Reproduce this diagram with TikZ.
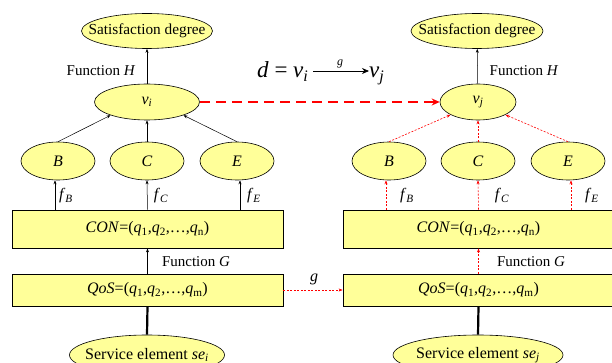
\documentclass[tikz,border=0pt]{standalone}
\usepackage{fontspec}
\setmainfont{Liberation Serif}
\usetikzlibrary{shapes.geometric,arrows.meta}
\definecolor{yel}{HTML}{FFFF99}
\begin{document}
\begin{tikzpicture}[x=1pt,y=-1pt,
  ell/.style={ellipse,draw,fill=yel,inner sep=0pt,line width=0.6pt},
  etxt/.style={inner sep=0pt,font=\fontsize{16}{18}\selectfont},
  stxt/.style={inner sep=0pt,font=\fontsize{15.3}{17}\selectfont},
  box/.style={rectangle,draw,fill=yel,minimum width=271pt,inner sep=0pt,line width=0.8pt,font=\fontsize{16}{18}\selectfont},
  lbl/.style={inner sep=0pt,font=\fontsize{15}{17}\selectfont},
  flbl/.style={inner sep=0pt,font=\fontsize{16}{18}\selectfont},
  arr/.style={-{Stealth[length=4pt,width=3pt]},line width=0.5pt},
  rarr/.style={-{Stealth[length=4pt,width=3pt]},line width=0.6pt,red,dash pattern=on 2pt off 1.5pt},
  big/.style={-{Stealth[length=8pt,width=7pt]},line width=2.6pt,red,dash pattern=on 10pt off 6pt}
]
\useasboundingbox (0,0) rectangle (612,363);
% ---------- left ----------
\node[ell,minimum width=131pt,minimum height=35pt,label={[stxt]center:Satisfaction degree}] (satL) at (147,31) {};
\node[ell,minimum width=105pt,minimum height=36pt,label={[etxt]center:\textit{v}\textsubscript{\textit{i}}}] (vi) at (147,102) {};
\node[ell,minimum width=74pt,minimum height=38pt,label={[etxt]center:\textit{B}}] (BL) at (58,161) {};
\node[ell,minimum width=74pt,minimum height=38pt,label={[etxt]center:\textit{C}}] (CL) at (147,161) {};
\node[ell,minimum width=74pt,minimum height=38pt,label={[etxt]center:\textit{E}}] (EL) at (237,161) {};
\node[box,minimum height=38pt] (conL) at (147.5,229) {\textit{CON}=(\textit{q}\textsubscript{1},\textit{q}\textsubscript{2},\dots,\textit{q}\textsubscript{n})};
\node[box,minimum height=32pt] (qosL) at (147.5,290) {\textit{QoS}=(\textit{q}\textsubscript{1},\textit{q}\textsubscript{2},\dots,\textit{q}\textsubscript{m})};
\node[ell,minimum width=155pt,minimum height=40pt,label={[etxt]center:Service element \textit{se}\textsubscript{\textit{i}}}] (seL) at (147,355) {};
\draw[arr] (vi) -- (satL);
\node[lbl] (fhL) at (101,71) {Function \textit{H}};
\draw[arr] (BL.north) -- (vi.200);
\draw[arr] (CL.north) -- (vi.south);
\draw[arr] (EL.north) -- (vi.-20);
\draw[arr] (conL.north -| 55,0) coordinate (a1) -- (a1 |- BL.south);
\draw[arr] (conL.north) -- (CL.south);
\draw[arr] (conL.north -| 240,0) coordinate (a3) -- (a3 |- EL.south);
\node[flbl] (fBL) at (66,196) {\textit{f}\textsubscript{\textit{B}}};
\node[flbl] (fCL) at (161,196) {\textit{f}\textsubscript{\textit{C}}};
\node[flbl] (fEL) at (254,196) {\textit{f}\textsubscript{\textit{E}}};
\draw[arr] (qosL) -- (conL);
\node[lbl] (fgL) at (196,262) {Function \textit{G}};
\draw[line width=2.2pt] (qosL.south) -- (seL.north);
% ---------- right ----------
\node[ell,minimum width=132pt,minimum height=35pt,label={[stxt]center:Satisfaction degree}] (satR) at (477,31) {};
\node[ell,minimum width=76pt,minimum height=36pt,label={[etxt]center:\textit{v}\textsubscript{\textit{j}}}] (vj) at (478,102) {};
\node[ell,minimum width=74pt,minimum height=38pt,label={[etxt]center:\textit{B}}] (BR) at (389,161) {};
\node[ell,minimum width=74pt,minimum height=38pt,label={[etxt]center:\textit{C}}] (CR) at (478,161) {};
\node[ell,minimum width=74pt,minimum height=38pt,label={[etxt]center:\textit{E}}] (ER) at (568,161) {};
\node[box,minimum height=38pt] (conR) at (478.5,229) {\textit{CON}=(\textit{q}\textsubscript{1},\textit{q}\textsubscript{2},\dots,\textit{q}\textsubscript{n})};
\node[box,minimum height=32pt] (qosR) at (478.5,290) {\textit{QoS}=(\textit{q}\textsubscript{1},\textit{q}\textsubscript{2},\dots,\textit{q}\textsubscript{m})};
\node[ell,minimum width=170pt,minimum height=40pt,label={[etxt]center:Service element \textit{se}\textsubscript{\textit{j}}}] (seR) at (478,355) {};
\draw[arr] (vj) -- (satR);
\node[lbl] (fhR) at (524,71) {Function \textit{H}};
\draw[rarr] (BR.north) -- (vj.205);
\draw[rarr] (CR.north) -- (vj.south);
\draw[rarr] (ER.north) -- (vj.-25);
\draw[rarr] (conR.north -| 386,0) coordinate (b1) -- (b1 |- BR.south);
\draw[rarr] (conR.north) -- (CR.south);
\draw[rarr] (conR.north -| 571,0) coordinate (b3) -- (b3 |- ER.south);
\node[flbl] (fBR) at (407,196) {\textit{f}\textsubscript{\textit{B}}};
\node[flbl] (fCR) at (502,196) {\textit{f}\textsubscript{\textit{C}}};
\node[flbl] (fER) at (592,196) {\textit{f}\textsubscript{\textit{E}}};
\draw[rarr] (qosR) -- (conR);
\node[lbl] (fgR) at (531,262) {Function \textit{G}};
\draw[line width=2.2pt] (qosR.south) -- (seR.north);
% ---------- links ----------
\draw[big] (vi) -- (vj);
\draw[rarr] (qosL) -- (qosR);
\node[flbl] (g) at (314,279) {\textit{g}};
% formula
\node[inner sep=0pt,anchor=base west,font=\fontsize{23}{25}\selectfont] (dvi) at (257,78) {\textit{d} = \textit{v}\textsubscript{\textit{i}}};
\node[inner sep=0pt,anchor=base west,font=\fontsize{23}{25}\selectfont] (vjj) at (369,78) {\textit{v}\textsubscript{\textit{j}}};
\coordinate (ar0) at (313,71);
\coordinate (ar1) at (369,71);
\draw[-{Stealth[length=7pt,width=6pt]},line width=0.8pt] (ar0) -- (ar1);
\node[inner sep=0pt,font=\fontsize{12}{14}\selectfont] (gf) at (340,64) {\textit{g}};
\end{tikzpicture}
\end{document}
